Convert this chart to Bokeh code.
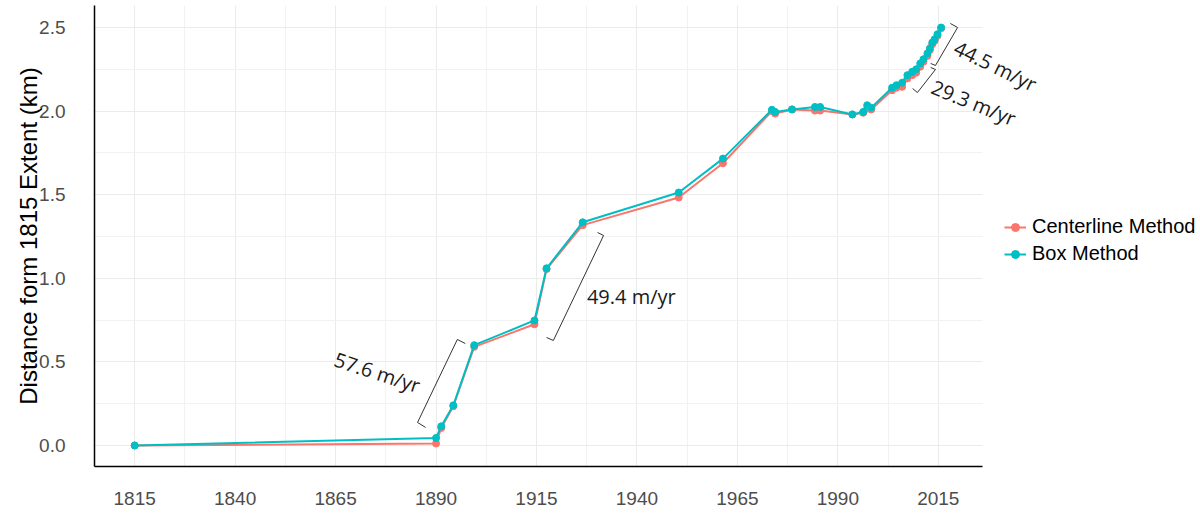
from bokeh.plotting import figure
from bokeh.models import (FixedTicker, Legend, LegendItem, Label, Range1d,
                          ColumnDataSource, PrintfTickFormatter, BoxAnnotation)
from bokeh.embed import file_html
from bokeh.resources import INLINE

# ---------------- data ----------------
years = [1815.0, 1890.0, 1891.3, 1894.3, 1899.5, 1914.5, 1917.5, 1926.5, 1950.4,
         1961.4, 1973.6, 1974.4, 1978.6, 1984.3, 1985.6, 1993.6, 1996.3, 1997.3,
         1998.3, 2003.5, 2004.6, 2006.0, 2007.3, 2008.5, 2009.5, 2010.5, 2011.3,
         2012.3, 2012.9, 2013.5, 2014.1, 2014.8, 2015.7]
centerline_km = [0.000, 0.012, 0.105, 0.235, 0.590, 0.725, 1.055, 1.318, 1.483,
                 1.688, 2.000, 1.985, 2.010, 2.003, 2.003, 1.980, 1.990, 2.015,
                 2.010, 2.125, 2.140, 2.145, 2.195, 2.215, 2.230, 2.265, 2.295,
                 2.330, 2.365, 2.400, 2.420, 2.450, 2.495]
box_km = [0.000, 0.045, 0.115, 0.240, 0.600, 0.748, 1.060, 1.335, 1.513,
          1.716, 2.008, 1.995, 2.010, 2.025, 2.025, 1.980, 1.995, 2.035,
          2.020, 2.140, 2.155, 2.170, 2.215, 2.235, 2.250, 2.285, 2.310,
          2.345, 2.375, 2.410, 2.430, 2.460, 2.500]

series_names = ["Centerline Method", "Box Method"]
series_colors = ["#F8766D", "#00BFC4"]

x_ticks = [1815, 1840, 1865, 1890, 1915, 1940, 1965, 1990, 2015]
y_ticks = [0.0, 0.5, 1.0, 1.5, 2.0, 2.5]

# rate annotations (text, anchor year, anchor km, angle deg)
ann_text = ["57.6 m/yr", "49.4 m/yr", "44.5 m/yr", "29.3 m/yr"]
ann_year = [1875.4, 1938.6, 2029.2, 2023.8]
ann_km = [0.437, 0.890, 2.270, 2.050]
ann_angle = [-18, 0, -26, -22]

# brackets (tick end, main start, main end, tick end)
bracket_years = [[1887.4, 1885.4, 1895.3, 1897.3],
                 [1917.5, 1919.2, 1931.7, 1930.2],
                 [2018.0, 2019.8, 2014.3, 2013.1],
                 [2013.1, 2014.3, 2009.8, 2008.6]]
bracket_km = [[0.108, 0.138, 0.634, 0.610],
              [0.646, 0.628, 1.256, 1.274],
              [2.524, 2.500, 2.273, 2.285],
              [2.261, 2.249, 2.111, 2.135]]

# panel extent in data units
x_lo, x_hi = 1805, 2026
y_lo, y_hi = -0.1256, 2.6316

# ---------------- figure ----------------
W, H = 1200, 514
left_b, top_b, bot_b = 94, 5, 48
frame_w = W - left_b
px_per_year = 888 / (x_hi - x_lo)
x_view_hi = x_lo + frame_w / px_per_year

p = figure(width=W, height=H, output_backend="svg", toolbar_location=None,
           x_range=Range1d(x_lo, x_view_hi), y_range=Range1d(y_lo, y_hi),
           min_border_left=left_b, min_border_right=0, min_border_top=top_b,
           min_border_bottom=bot_b)
p.outline_line_color = None
p.background_fill_color = "white"
p.border_fill_color = "white"

x_minor = [t + 12.5 for t in x_ticks[:-1]] + [x_ticks[0] - 12.5]
y_minor = [t + 0.25 for t in y_ticks]
p.xaxis.ticker = FixedTicker(ticks=x_ticks, minor_ticks=x_minor)
p.yaxis.ticker = FixedTicker(ticks=y_ticks, minor_ticks=y_minor)
p.yaxis.formatter = PrintfTickFormatter(format="%.1f")
p.xaxis.bounds = (x_lo, x_hi)

for ax in (p.xaxis, p.yaxis):
    ax.axis_line_color = "black"
    ax.axis_line_width = 1.5
    ax.major_tick_line_color = None
    ax.minor_tick_line_color = None
    ax.major_label_text_font = "Liberation Sans"
    ax.major_label_text_font_size = "19px"
    ax.major_label_text_color = "#4d4d4d"

p.xaxis.major_label_standoff = 19
p.yaxis.major_label_standoff = 23
p.yaxis.axis_label = "Distance form 1815 Extent (km)"
p.yaxis.axis_label_text_font = "Liberation Sans"
p.yaxis.axis_label_text_font_size = "24px"
p.yaxis.axis_label_text_font_style = "normal"
p.yaxis.axis_label_text_color = "black"
p.yaxis.axis_label_standoff = -6

for g in (p.xgrid, p.ygrid):
    g.grid_line_color = "#ebebeb"
    g.grid_line_width = 1
    g.minor_grid_line_color = "#f2f2f2"
    g.minor_grid_line_width = 1

# white cover for the area to the right of the panel (legend/labels zone)
p.add_layout(BoxAnnotation(left=x_hi, fill_color="white", fill_alpha=1,
                           line_color=None, level="underlay"))

# brackets
p.multi_line(xs=bracket_years, ys=bracket_km, line_color="#333333", line_width=1)

# series
items = []
for name, vals, col in zip(series_names, [centerline_km, box_km], series_colors):
    src = ColumnDataSource(dict(x=years, y=vals))
    rl = p.line("x", "y", source=src, line_color=col, line_width=2)
    rp = p.scatter("x", "y", source=src, size=7, fill_color=col, line_color=col)
    items.append(LegendItem(label=name, renderers=[rl, rp]))

legend = Legend(items=items, location=(910, 201), margin=0, padding=5,
                spacing=4, glyph_width=22, glyph_height=20, label_height=20,
                label_standoff=6, label_text_font="Liberation Sans",
                label_text_font_size="20px", label_text_color="black",
                border_line_color=None, background_fill_alpha=0)
p.add_layout(legend)

for t, xv, yv, a in zip(ann_text, ann_year, ann_km, ann_angle):
    p.add_layout(Label(x=xv, y=yv, text=t, angle=a, angle_units="deg",
                       text_align="center", text_baseline="middle",
                       text_font="Open Sans", text_font_size="20px",
                       text_color="#1a1a1a"))

open("out.html", "w").write(file_html(p, INLINE, title="Retreat"))
